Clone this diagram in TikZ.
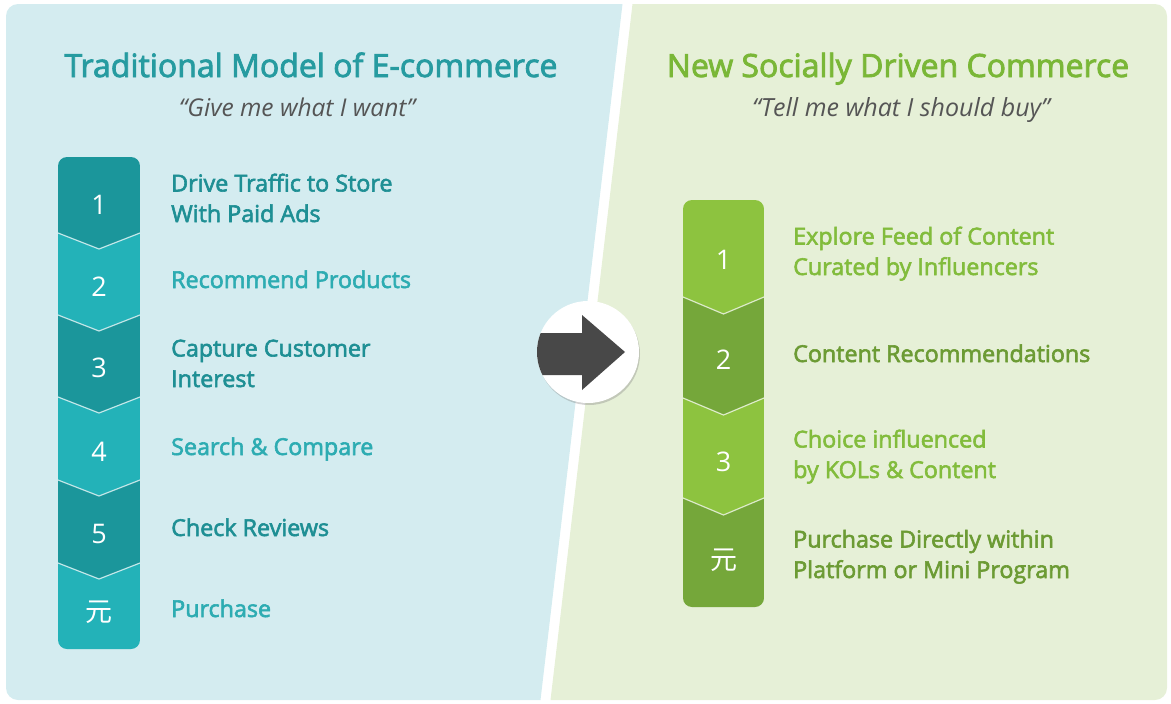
\documentclass[tikz,border=0pt]{standalone}
\usepackage{fontspec}
\setmainfont{Open Sans}
\newfontfamily\semi[FakeBold=2.5]{Open Sans}
\newfontfamily\cjk{Noto Sans CJK SC}
\usetikzlibrary{shadows}
\newcommand\yuan{{\cjk 元}}

\definecolor{bgL}{RGB}{212,236,240}
\definecolor{bgR}{RGB}{230,240,215}
\definecolor{tealD}{RGB}{27,150,155}
\definecolor{tealL}{RGB}{35,178,184}
\definecolor{txtD}{RGB}{30,143,148}
\definecolor{txtL}{RGB}{45,172,178}
\definecolor{titleL}{RGB}{38,155,160}
\definecolor{greenL}{RGB}{141,195,63}
\definecolor{greenD}{RGB}{117,167,58}
\definecolor{gtxtL}{RGB}{130,188,60}
\definecolor{gtxtD}{RGB}{108,155,52}
\definecolor{titleR}{RGB}{122,183,55}
\definecolor{quote}{RGB}{85,85,85}
\definecolor{arrowc}{RGB}{72,72,72}

\tikzset{
  num/.style={text=white, font=\fontsize{27}{27}\selectfont, inner sep=0pt},
  item/.style={anchor=base west, align=left, inner sep=0pt, font=\semi\fontsize{23.3}{30.5}\selectfont},
  sep/.style={draw=white, draw opacity=0.7, line width=1.2pt}
}

\begin{document}
\begin{tikzpicture}[x=1pt, y=-1pt]
\useasboundingbox (0,0) rectangle (1171,704);
% panels
\fill[bgL] (540.5,700) [rounded corners=12pt] -- (6,700) -- (6,4) [sharp corners] -- (622.5,4) -- cycle;
\fill[bgR] (632.5,4) [rounded corners=12pt] -- (1167,4) -- (1167,700) [sharp corners] -- (550.5,700) -- cycle;

% titles
\node[font=\semi\fontsize{32}{32}\selectfont, text=titleL, anchor=base] (titleL) at (311,77) {Traditional Model of E-commerce};
\node[font=\itshape\fontsize{24.5}{24.5}\selectfont, text=quote, anchor=base] (quoteL) at (297,116) {“Give me what I want”};
\node[font=\semi\fontsize{32}{32}\selectfont, text=titleR, anchor=base] (titleR) at (898,77) {New Socially Driven Commerce};
\node[font=\itshape\fontsize{25}{25}\selectfont, text=quote, anchor=base] (quoteR) at (901,116) {“Tell me what I should buy”};

% traditional steps
\begin{scope}
\clip[rounded corners=9pt] (58,157) rectangle (140,649);
\foreach \t/\b/\c in {130/233/tealD, 233/315/tealL, 315/397/tealD, 397/480/tealL, 480/563/tealD, 563/670/tealL}
  \fill[\c] (58,\t) -- (99,\t+16) -- (140,\t) -- (140,\b) -- (99,\b+16) -- (58,\b) -- cycle;
\foreach \s in {233, 315, 397, 480, 563}
  \draw[sep] (58,\s) -- (99,\s+16) -- (140,\s);
\end{scope}
\foreach \y/\n [count=\i] in {205/1, 287/2, 368/3, 452/4, 534/5, 612/\yuan}
  \node[num] (L\i) at (99,\y) {\n};

\node[item, text=txtD] (LT1) at (171,222) {Drive Traffic to Store\\With Paid Ads};
\node[item, text=txtL] (LT2) at (171,288) {Recommend Products};
\node[item, text=txtD] (LT3) at (171,387) {Capture Customer\\Interest};
\node[item, text=txtL] (LT4) at (171,455) {Search \& Compare};
\node[item, text=txtD] (LT5) at (171,536) {Check Reviews};
\node[item, text=txtL] (LT6) at (171,617) {Purchase};

% social steps
\begin{scope}
\clip[rounded corners=9pt] (683,200) rectangle (764,607);
\foreach \t/\b/\c in {170/297/greenL, 297/398/greenD, 398/498/greenL, 498/630/greenD}
  \fill[\c] (683,\t) -- (723.5,\t+17) -- (764,\t) -- (764,\b) -- (723.5,\b+17) -- (683,\b) -- cycle;
\foreach \s in {297, 398, 498}
  \draw[sep] (683,\s) -- (723.5,\s+17) -- (764,\s);
\end{scope}
\foreach \y/\n [count=\i] in {260/1, 360/2, 462/3, 560/\yuan}
  \node[num] (R\i) at (723.5,\y) {\n};

\node[item, text=gtxtL] (RT1) at (793,275) {Explore Feed of Content\\Curated by Influencers};
\node[item, text=gtxtD] (RT2) at (793,362) {Content Recommendations};
\node[item, text=gtxtL] (RT3) at (793,478) {Choice influenced\\by KOLs \& Content};
\node[item, text=gtxtD] (RT4) at (793,578) {Purchase Directly within\\Platform or Mini Program};

% switch arrow
\node[circle, fill=white, minimum size=102pt, inner sep=0pt, drop shadow={shadow xshift=1pt, shadow yshift=-2pt, opacity=0.35}] (swap) at (588,352) {};
\begin{scope}
\clip (swap.center) circle (51);
\fill[arrowc] (530,333) -- (582,333) -- (582,315) -- (625,352) -- (582,390) -- (582,375) -- (530,375) -- cycle;
\end{scope}
\end{tikzpicture}
\end{document}
